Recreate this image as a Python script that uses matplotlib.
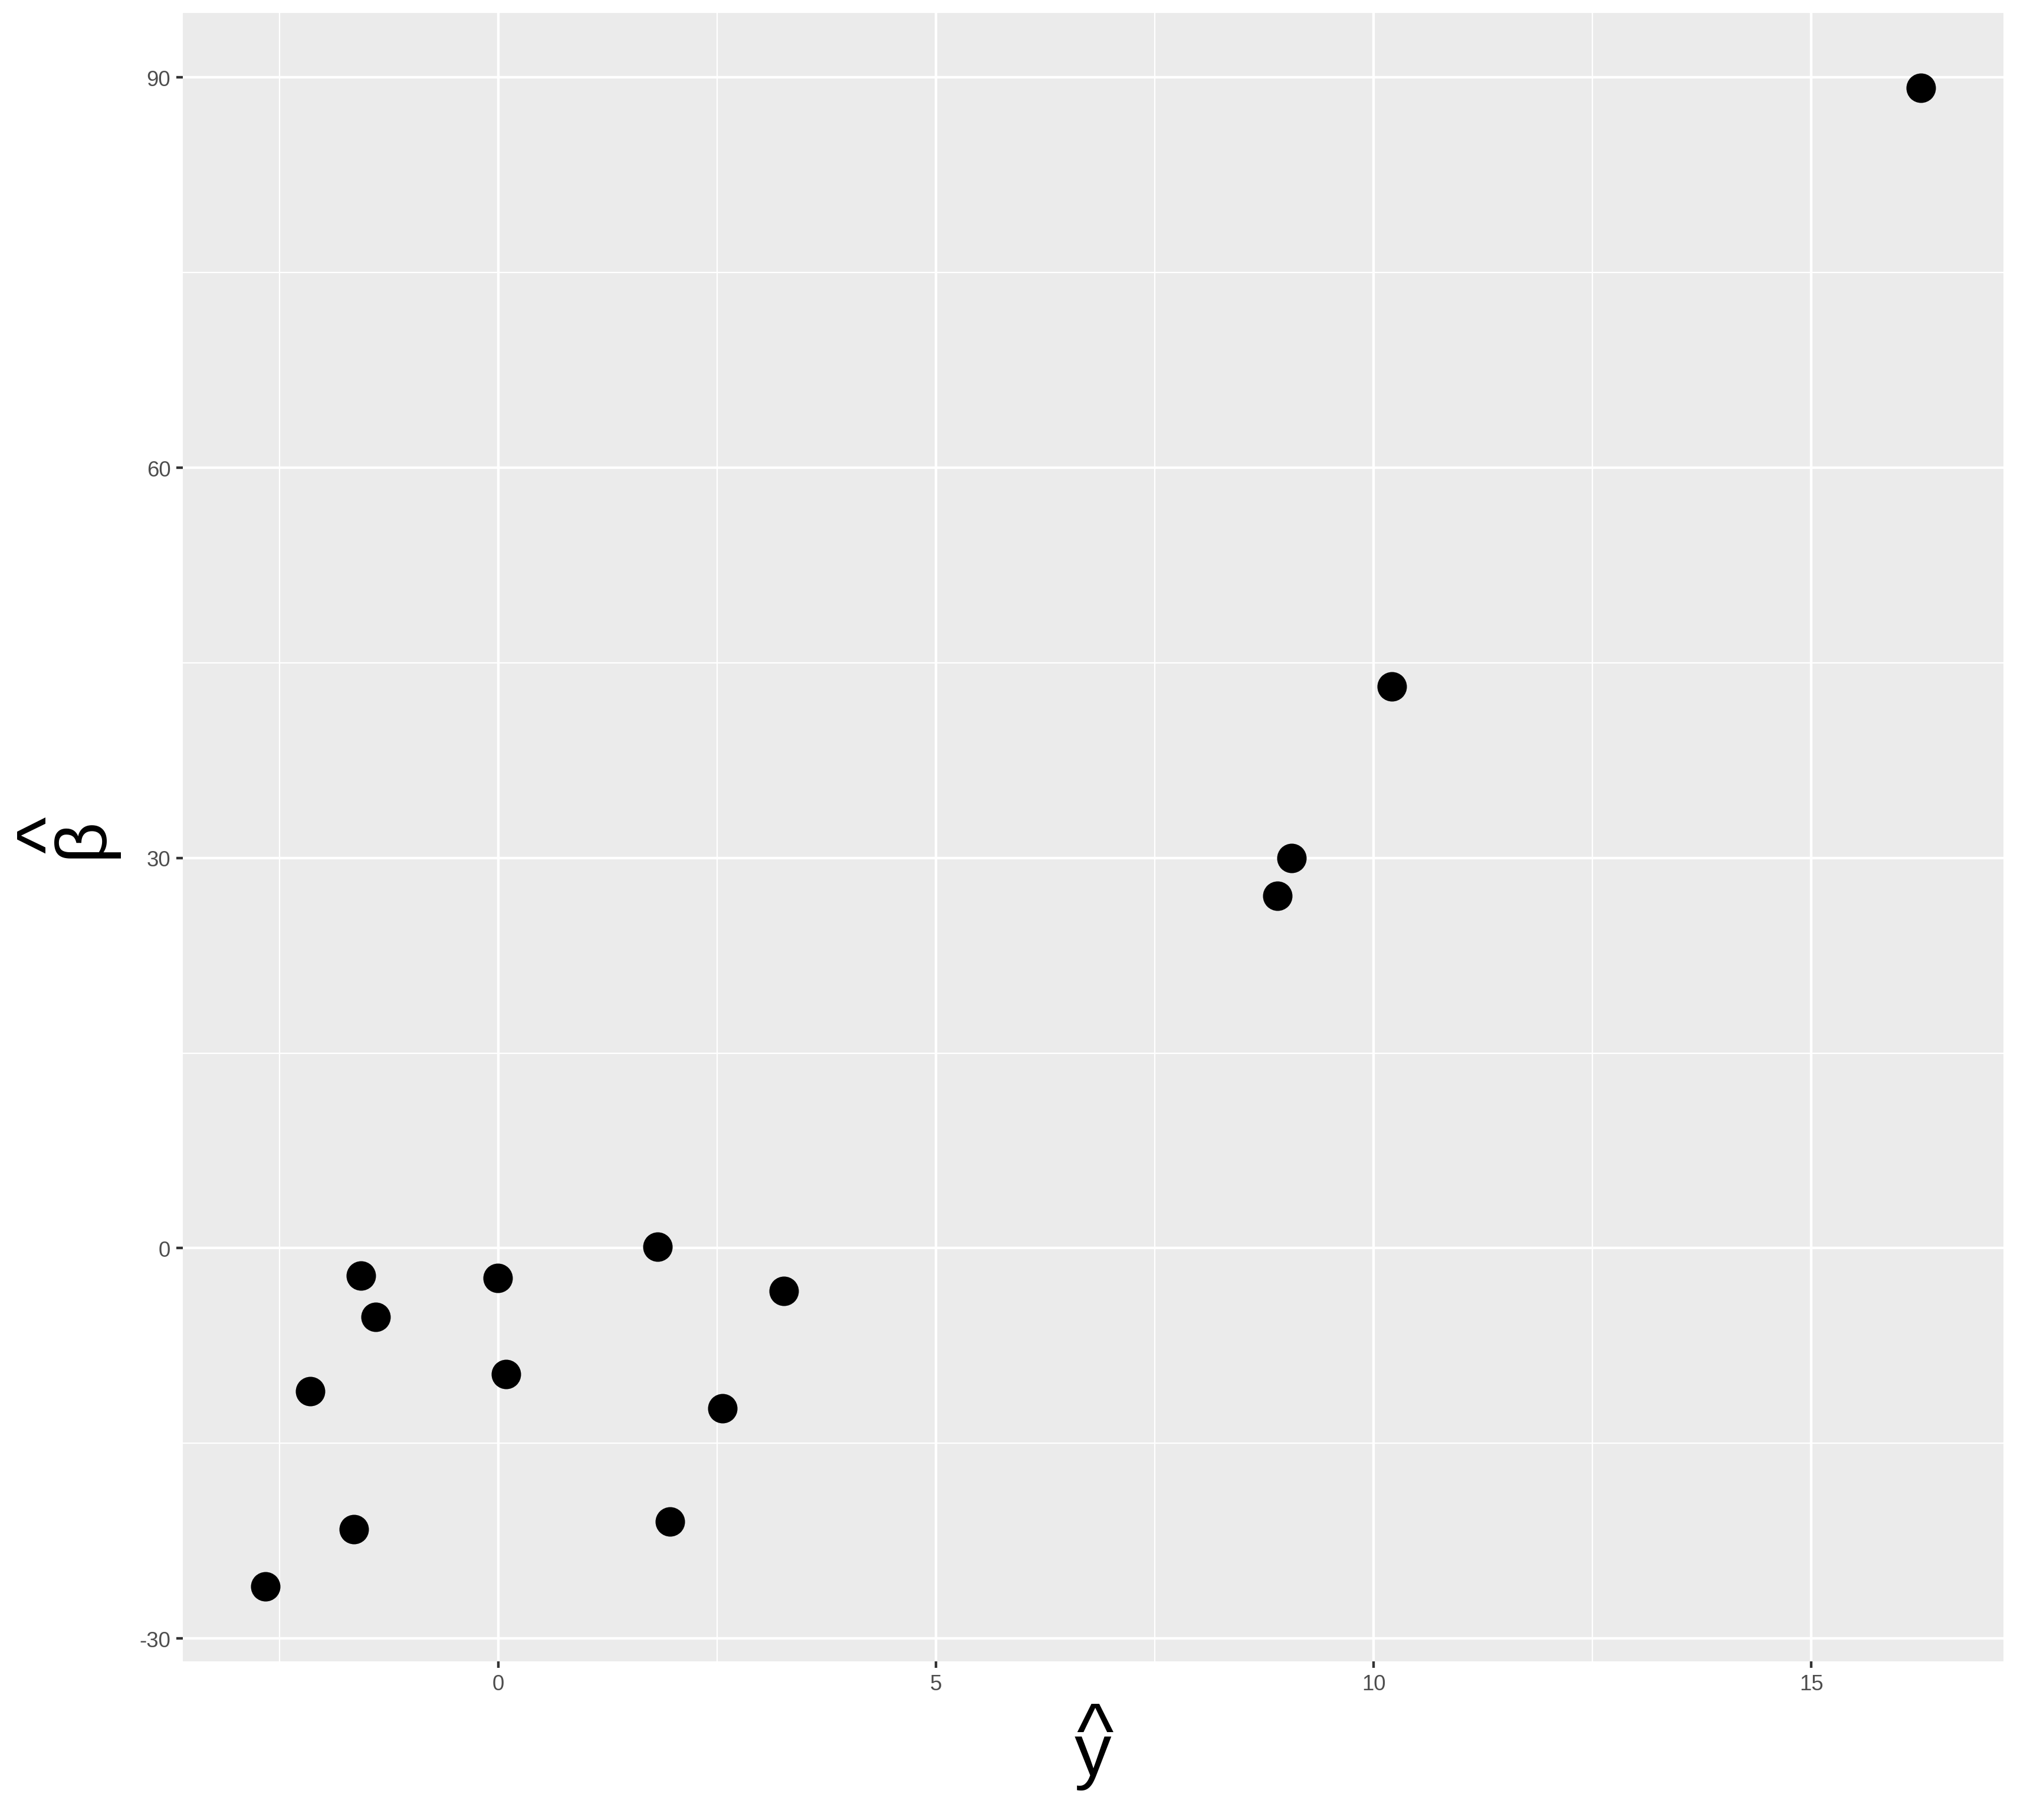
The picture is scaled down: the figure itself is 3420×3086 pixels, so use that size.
import matplotlib
matplotlib.use("Agg")
import matplotlib.pyplot as plt
from matplotlib.ticker import FixedLocator

# Data
y_hat = [16.25, 10.21, 9.06, 8.90, 1.82, 3.26, -0.01, -1.57, -1.40,
         -2.15, 0.09, 2.56, 1.96, -1.65, -2.66]
beta_hat = [89.2, 43.2, 30.0, 27.1, 0.1, -3.3, -2.3, -2.1, -5.3,
            -11.0, -9.7, -12.3, -21.0, -21.6, -26.0]

x_ticks = [0, 5, 10, 15]
y_ticks = [-30, 0, 30, 60, 90]
x_minor = [-2.5, 2.5, 7.5, 12.5]
y_minor = [-15, 15, 45, 75]

plt.rcParams['font.family'] = ['Liberation Sans', 'DejaVu Sans']

W, H, DPI = 3420, 3087, 300
fig = plt.figure(figsize=(W / DPI, H / DPI), dpi=DPI)
left, right, top, bottom = 310 / W, 3397 / W, 1 - 23 / H, 1 - 2818 / H
ax = fig.add_axes([left, bottom, right - left, top - bottom])
ax.set_facecolor('#EBEBEB')
for s in ax.spines.values():
    s.set_visible(False)

ax.scatter(y_hat, beta_hat, s=144, color='black', linewidths=0, zorder=3)

# ggplot-like expansion (5%)
xr = max(y_hat) - min(y_hat)
yr = max(beta_hat) - min(beta_hat)
ax.set_xlim(min(y_hat) - 0.05 * xr, max(y_hat) + 0.05 * xr)
ax.set_ylim(min(beta_hat) - 0.05 * yr, max(beta_hat) + 0.05 * yr)

ax.xaxis.set_major_locator(FixedLocator(x_ticks))
ax.yaxis.set_major_locator(FixedLocator(y_ticks))
ax.xaxis.set_minor_locator(FixedLocator(x_minor))
ax.yaxis.set_minor_locator(FixedLocator(y_minor))
ax.set_xticklabels([str(t) for t in x_ticks])
ax.set_yticklabels([str(t) for t in y_ticks])

ax.grid(which='major', color='white', linewidth=1.05, zorder=1)
ax.grid(which='minor', color='white', linewidth=0.53, zorder=1)
ax.set_axisbelow(True)

ax.tick_params(which='major', length=2.75, width=1.05, color='#333333',
               labelsize=8.8, labelcolor='#4D4D4D', pad=2.2)
ax.tick_params(which='minor', length=0)


def px(x, y_from_top):
    return x / W, 1 - y_from_top / H


# Axis titles: letter with a caret placed above it (plotmath-style hat)
# x title: y-hat
fig.text(*px(1853, 3010), 'y', fontsize=30, ha='center', va='baseline',
         color='black')
fig.text(*px(1857, 2981), '^', fontsize=32, ha='center', va='baseline',
         color='black')

# y title: beta-hat (rotated)
fig.text(*px(173, 1420), 'β', fontsize=29, ha='center', va='baseline',
         rotation=90, rotation_mode='anchor', color='black')
fig.text(*px(121, 1416), '^', fontsize=32, ha='center', va='baseline',
         rotation=90, rotation_mode='anchor', color='black')

fig.savefig('out.png', dpi=DPI)
